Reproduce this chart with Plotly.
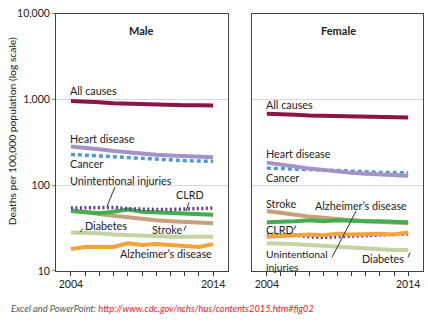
import plotly.graph_objects as go

W, H = 428, 325
years = list(range(2004, 2015))

# Male
all_m = [960, 950, 925, 905, 895, 870, 862, 858, 855, 856, 852]
heart_m = [282, 274, 262, 250, 240, 232, 226, 221, 216, 213, 211]
cancer_m = [228, 223, 218, 213, 208, 204, 200, 196, 193, 191, 189]
unint_m = [54, 54, 55, 55, 53, 52, 52, 52, 53, 53, 54]
clrd_m = [50, 49, 47, 49, 52, 49, 48, 47, 47, 46, 45]
stroke_m = [51, 48, 46, 44, 42, 40, 39, 38, 37, 36.5, 36]
diab_m = [28, 28, 27.5, 26.5, 26, 25.5, 25, 25, 25, 25, 25]
alz_m = [18, 19, 19, 19, 21, 20, 20.5, 20, 19.5, 19, 20.5]

# Female
all_f = [679, 677, 664, 650, 643, 635, 632, 629, 626, 623, 617]
heart_f = [183, 176, 165, 156, 150, 143, 139, 136, 133, 131, 129]
cancer_f = [158, 157, 155, 152, 150, 147, 145, 143, 141, 140, 139]
stroke_f = [50, 47, 45, 43, 42, 40, 39, 38, 37, 36, 36]
clrd_f = [37, 37, 38, 39, 38, 39, 38, 38, 38, 38, 37]
alz_f = [25, 25.5, 26, 26.5, 26, 27, 26.5, 27, 27, 26.5, 28]
unint_f = [26, 26, 26, 25, 24.5, 25, 25.5, 26, 26.5, 26.5, 27]
diab_f = [21, 21, 20.5, 20, 19.5, 19, 18.5, 18, 18, 17.5, 17.5]

y_ticks = [10, 100, 1000, 10000]
y_labels = ["10", "100", "1,000", "10,000"]
x_labels = ["2004"] + [""] * 9 + ["2014"]

styles = {
    "all": dict(color="#8C1446", width=4),
    "heart": dict(color="#A493CB", width=4),
    "cancer": dict(color="#4E9CC9", width=3.5, dash="4px,3px"),
    "unint": dict(color="#5A3C9E", width=3.5, dash="2px,2.5px"),
    "clrd": dict(color="#42AE4E", width=4),
    "stroke": dict(color="#C9A07A", width=4),
    "diab": dict(color="#C3D4A2", width=4),
    "alz": dict(color="#F2A43A", width=4),
}

fig = go.Figure()
male = [("all", all_m), ("heart", heart_m), ("cancer", cancer_m), ("diab", diab_m),
        ("alz", alz_m), ("stroke", stroke_m), ("clrd", clrd_m), ("unint", unint_m)]
female = [("all", all_f), ("cancer", cancer_f), ("heart", heart_f), ("diab", diab_f),
          ("stroke", stroke_f), ("clrd", clrd_f), ("unint", unint_f), ("alz", alz_f)]
for k, v in male:
    fig.add_trace(go.Scatter(x=years, y=v, mode="lines", line=styles[k],
                             xaxis="x", yaxis="y", showlegend=False, hoverinfo="skip"))
for k, v in female:
    fig.add_trace(go.Scatter(x=years, y=v, mode="lines", line=styles[k],
                             xaxis="x2", yaxis="y2", showlegend=False, hoverinfo="skip"))


def px(x, y):
    return x / W, 1 - y / H


ytop, ybot = 8, 275
axis_common = dict(showline=True, linecolor="#444", linewidth=1, mirror=True)
tickfont = dict(family="Lato", size=10.5, color="#222")
xcommon = dict(range=[2002.95, 2015.05], tickvals=years, ticktext=x_labels,
               ticks="outside", ticklen=4, tickcolor="#333", showgrid=False,
               tickfont=tickfont, **axis_common)
ycommon = dict(type="log", range=[1, 4], tickvals=y_ticks, ticktext=y_labels,
               showgrid=True, gridcolor="#D8D8D8", gridwidth=1, zeroline=False,
               tickfont=tickfont, **axis_common)

fig.update_layout(
    width=W, height=H, margin=dict(l=0, r=0, t=0, b=0),
    plot_bgcolor="white", paper_bgcolor="white",
    xaxis=dict(domain=[56 / W, 228 / W], anchor="y", **xcommon),
    yaxis=dict(domain=[1 - ybot / H, 1 - ytop / H], anchor="x", ticks="outside",
               ticklen=3, tickcolor="#888", **ycommon),
    xaxis2=dict(domain=[252 / W, 423 / W], anchor="y2", **xcommon),
    yaxis2=dict(domain=[1 - ybot / H, 1 - ytop / H], anchor="x2",
                showticklabels=False, **ycommon),
)

font = dict(family="Lato", size=10.8, color="#222")


def label(text, x, y, xanchor="left", f=font, align="left"):
    ax, ay = px(x, y)
    fig.add_annotation(text=text, x=ax, y=ay, xref="paper", yref="paper",
                       xanchor=xanchor, yanchor="middle", showarrow=False, font=f,
                       align=align)


def leader(x0, y0, x1, y1):
    a0, b0 = px(x0, y0)
    a1, b1 = px(x1, y1)
    fig.add_shape(type="line", x0=a0, y0=b0, x1=a1, y1=b1, xref="paper", yref="paper",
                  line=dict(color="#333", width=1))


bold = dict(family="Lato", size=11, color="#222")
label("<b>Male</b>", 141, 25, "center", bold)
label("<b>Female</b>", 338, 25, "center", bold)

# Male labels
label("All causes", 68, 88)
label("Heart disease", 68, 138)
label("Cancer", 68, 164)
label("Unintentional injuries", 68, 181)
leader(115, 188, 107, 208)
label("CLRD", 190, 196, "center")
leader(189, 204, 186, 213)
label("Diabetes", 83, 228)
leader(83, 231, 80, 235)
label("Stroke", 167, 232, "center")
leader(186, 228, 184, 233)
label("Alzheimer’s disease", 166, 257, "center")

# Female labels
label("All causes", 264, 102)
label("Heart disease", 264, 153)
label("Cancer", 264, 178)
label("Stroke", 264, 205)
label("Alzheimer’s disease", 361, 207, "center")
leader(356, 213, 332, 261)
label("CLRD", 264, 232)
leader(296, 228, 294, 232)
label("Unintentional<br>injuries", 264, 264,
      f=dict(family="Lato", size=10.3, color="#222"))
label("Diabetes", 383, 262, "center")
leader(410, 256, 408, 261)

# Y axis title
tx, ty = px(12, 130)
fig.add_annotation(text="Deaths per 100,000 population (log scale)", x=tx, y=ty,
                   xref="paper", yref="paper", textangle=-90, showarrow=False,
                   xanchor="center", yanchor="middle",
                   font=dict(family="Lato", size=10.3, color="#222"))

# Caption
cx, cy = px(9, 314)
fig.add_annotation(
    text="<i><span style='color:#555'>Excel and PowerPoint: </span>"
         "<span style='color:#E8202A'>http://www.cdc.gov/nchs/hus/contents2015.htm#fig02</span></i>",
    x=cx, y=cy, xref="paper", yref="paper", xanchor="left", yanchor="middle",
    showarrow=False, font=dict(family="Lato", size=9.3, color="#555"))

fig.write_html("out.html")
